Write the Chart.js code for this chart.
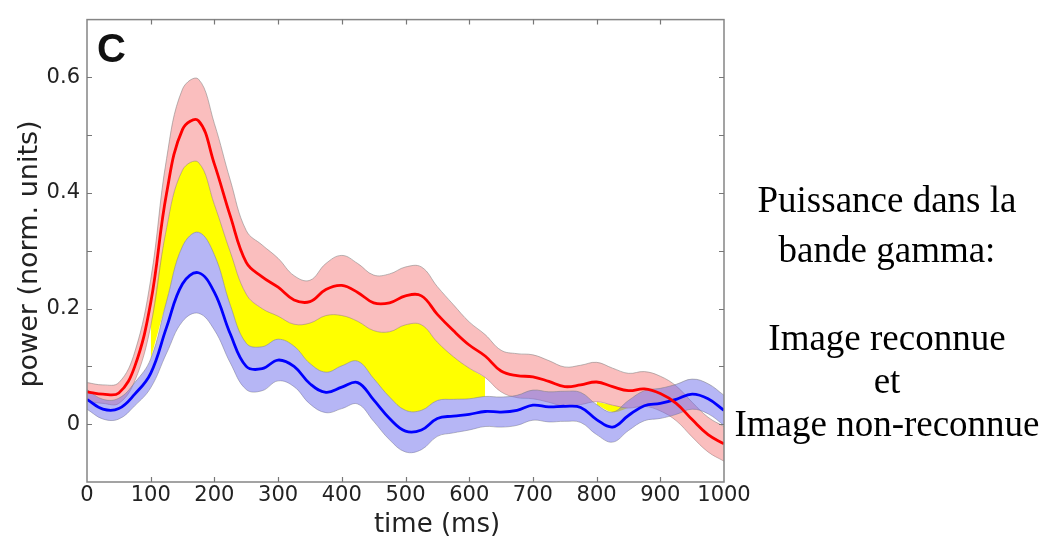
<!DOCTYPE html>
<html>
<head>
<meta charset="utf-8">
<title>Puissance gamma</title>
<script src="https://cdn.jsdelivr.net/npm/chart.js@4.4.1/dist/chart.umd.min.js"></script>
<style>
  html, body { margin: 0; padding: 0; background: #fff; }
  #wrap { position: relative; width: 1045px; height: 537px; overflow: hidden; }
  #c { position: absolute; left: 0; top: 0; }
  .note {
    position: absolute; left: 727px; width: 320px; text-align: center;
    font-family: "Liberation Serif", "Times New Roman", serif;
    font-size: 37px; line-height: 41px; color: #000; white-space: nowrap;
  }
</style>
</head>
<body>
<div id="wrap">
  <canvas id="c" width="1045" height="537"></canvas>
  <div class="note" style="top:179px">Puissance dans la</div>
  <div class="note" style="top:229px">bande gamma:</div>
  <div class="note" style="top:317px">Image reconnue</div>
  <div class="note" style="top:360px">et</div>
  <div class="note" style="top:403px">Image non-reconnue</div>
</div>
<script>
// Time axis (ms) and condition averages with their error half-widths
const timeMs = [0,25,50,75,100,125,150,175,200,225,250,275,300,325,350,375,400,425,450,475,500,
                525,550,575,600,625,650,675,700,725,750,775,800,825,850,875,900,925,950,975,1000];

// Recognised image (red)
const redMean = [0.056,0.052,0.054,0.10,0.21,0.40,0.51,0.525,0.45,0.36,0.28,0.255,0.237,0.215,0.212,0.233,0.24,0.228,0.21,0.21,0.222,
                 0.222,0.19,0.162,0.137,0.118,0.092,0.084,0.082,0.074,0.065,0.068,0.073,0.065,0.058,0.061,0.053,0.036,0.008,-0.018,-0.034];
const redSem  = [0.016,0.016,0.018,0.025,0.04,0.06,0.07,0.072,0.07,0.062,0.055,0.055,0.05,0.042,0.037,0.045,0.052,0.05,0.048,0.05,0.05,
                 0.05,0.048,0.045,0.04,0.037,0.036,0.038,0.038,0.036,0.034,0.034,0.034,0.032,0.03,0.03,0.03,0.03,0.03,0.03,0.03];

// Unrecognised image (blue)
const blueMean = [0.043,0.026,0.027,0.052,0.088,0.168,0.243,0.262,0.228,0.156,0.10,0.096,0.111,0.10,0.07,0.055,0.064,0.072,0.042,0.01,-0.012,
                  -0.01,0.01,0.014,0.017,0.022,0.021,0.024,0.033,0.03,0.031,0.029,0.008,-0.005,0.015,0.032,0.036,0.043,0.052,0.044,0.024];
const blueSem  = [0.017,0.017,0.018,0.02,0.025,0.045,0.065,0.07,0.065,0.05,0.04,0.038,0.036,0.035,0.035,0.035,0.037,0.037,0.037,0.037,0.036,
                  0.034,0.031,0.029,0.027,0.026,0.026,0.026,0.026,0.026,0.026,0.026,0.026,0.026,0.026,0.026,0.026,0.026,0.026,0.026,0.026];

// Time windows where the two conditions differ (ms)
const sigWindows = [[100, 625], [800, 850]];

// Axis ticks
const xTickValues = [0,100,200,300,400,500,600,700,800,900,1000];
const yTickValues = [0, 0.2, 0.4, 0.6];

// ---- derived series ----
const redUpper  = redMean.map((m, i) => m + redSem[i]);
const redLower  = redMean.map((m, i) => m - redSem[i]);
const blueUpper = blueMean.map((m, i) => m + blueSem[i]);
const blueLower = blueMean.map((m, i) => m - blueSem[i]);
const inSig = t => sigWindows.some(([a, b]) => t >= a && t <= b);
const sigTop    = timeMs.map((t, i) => inSig(t) ? redLower[i] : null);
const sigBottom = timeMs.map((t, i) => inSig(t) ? Math.min(blueUpper[i], redLower[i]) : null);

const pts = arr => timeMs.map((t, i) => ({ x: t, y: arr[i] }));

const AXIS_FONT = '"DejaVu Sans", Verdana, sans-serif';
const EDGE = 'rgba(130,130,130,0.55)';

// Frame, inward tick marks, panel letter and axis titles
const framePlugin = {
  id: 'frame',
  afterDatasetsDraw(chart) {
    const { ctx, chartArea: a, scales: { x, y } } = chart;
    ctx.save();
    ctx.strokeStyle = '#858585';
    ctx.lineWidth = 1.5;
    ctx.strokeRect(a.left, a.top, a.right - a.left, a.bottom - a.top);
    ctx.lineWidth = 1.2;
    ctx.strokeStyle = '#777';
    const tl = 5;
    ctx.beginPath();
    x.ticks.forEach(tk => {
      const px = Math.round(x.getPixelForValue(tk.value)) + 0.5;
      if (px <= a.left + 1 || px >= a.right - 1) return;
      ctx.moveTo(px, a.bottom); ctx.lineTo(px, a.bottom - tl);
      ctx.moveTo(px, a.top); ctx.lineTo(px, a.top + tl);
    });
    y.ticks.forEach(tk => {
      const py = Math.round(y.getPixelForValue(tk.value)) + 0.5;
      if (py <= a.top + 1 || py >= a.bottom - 1) return;
      ctx.moveTo(a.left, py); ctx.lineTo(a.left + tl, py);
      ctx.moveTo(a.right, py); ctx.lineTo(a.right - tl, py);
    });
    ctx.stroke();

    // panel letter
    ctx.fillStyle = '#111';
    ctx.font = 'bold 40px "Liberation Sans", Arial, sans-serif';
    ctx.textAlign = 'left';
    ctx.textBaseline = 'alphabetic';
    ctx.fillText('C', 97, 62);

    // axis titles
    ctx.fillStyle = '#222';
    ctx.font = '26px ' + AXIS_FONT;
    ctx.textAlign = 'center';
    ctx.fillText('time (ms)', 437, 532);

    ctx.translate(30, 254);
    ctx.rotate(-Math.PI / 2);
    ctx.font = '27px ' + AXIS_FONT;
    ctx.textBaseline = 'middle';
    ctx.fillText('power (norm. units)', 0, 0);
    ctx.restore();
  }
};

const lineBase = { pointRadius: 0, tension: 0.4, spanGaps: false };
const noGrid = { display: false, drawTicks: false, tickLength: 0 };

new Chart(document.getElementById('c'), {
  type: 'line',
  data: {
    datasets: [
      { ...lineBase, label: 'reconnue', data: pts(redMean), borderColor: '#ff0000', borderWidth: 2.8, fill: false },
      { ...lineBase, label: 'non-reconnue', data: pts(blueMean), borderColor: '#0000ff', borderWidth: 2.8, fill: false },
      { ...lineBase, label: 'blue+', data: pts(blueUpper), borderColor: EDGE, borderWidth: 1, fill: '+1',
        backgroundColor: 'rgba(110,110,235,0.5)' },
      { ...lineBase, label: 'blue-', data: pts(blueLower), borderColor: EDGE, borderWidth: 1, fill: false },
      { ...lineBase, label: 'red+', data: pts(redUpper), borderColor: EDGE, borderWidth: 1, fill: '+1',
        backgroundColor: 'rgba(245,110,110,0.45)' },
      { ...lineBase, label: 'red-', data: pts(redLower), borderColor: EDGE, borderWidth: 1, fill: false },
      { ...lineBase, label: 'sig+', data: pts(sigTop), borderColor: 'rgba(0,0,0,0)', borderWidth: 0, fill: '+1',
        backgroundColor: '#ffff00' },
      { ...lineBase, label: 'sig-', data: pts(sigBottom), borderColor: 'rgba(0,0,0,0)', borderWidth: 0, fill: false }
    ]
  },
  options: {
    responsive: false,
    animation: false,
    devicePixelRatio: 1,
    layout: { padding: { top: 12, right: 321, left: 0, bottom: 0 } },
    plugins: { legend: { display: false }, tooltip: { enabled: false } },
    scales: {
      x: {
        type: 'linear', min: 0, max: 1000,
        afterBuildTicks: s => { s.ticks = xTickValues.map(v => ({ value: v })); },
        ticks: {
          font: { family: AXIS_FONT, size: 21 }, color: '#222', padding: 1, maxRotation: 0, autoSkip: false,
          callback: v => String(v)
        },
        grid: noGrid,
        border: { display: false },
        afterFit: s => { s.height = 55; }
      },
      y: {
        type: 'linear', min: -0.1, max: 0.7,
        ticks: {
          stepSize: 0.1,
          font: { family: AXIS_FONT, size: 21 }, color: '#222', padding: 7,
          callback: v => {
            const hit = yTickValues.find(t => Math.abs(t - v) < 1e-6);
            return hit === undefined ? '' : String(hit);
          }
        },
        grid: noGrid,
        border: { display: false },
        afterFit: s => { s.width = 87; }
      }
    }
  },
  plugins: [framePlugin]
});
</script>
</body>
</html>
